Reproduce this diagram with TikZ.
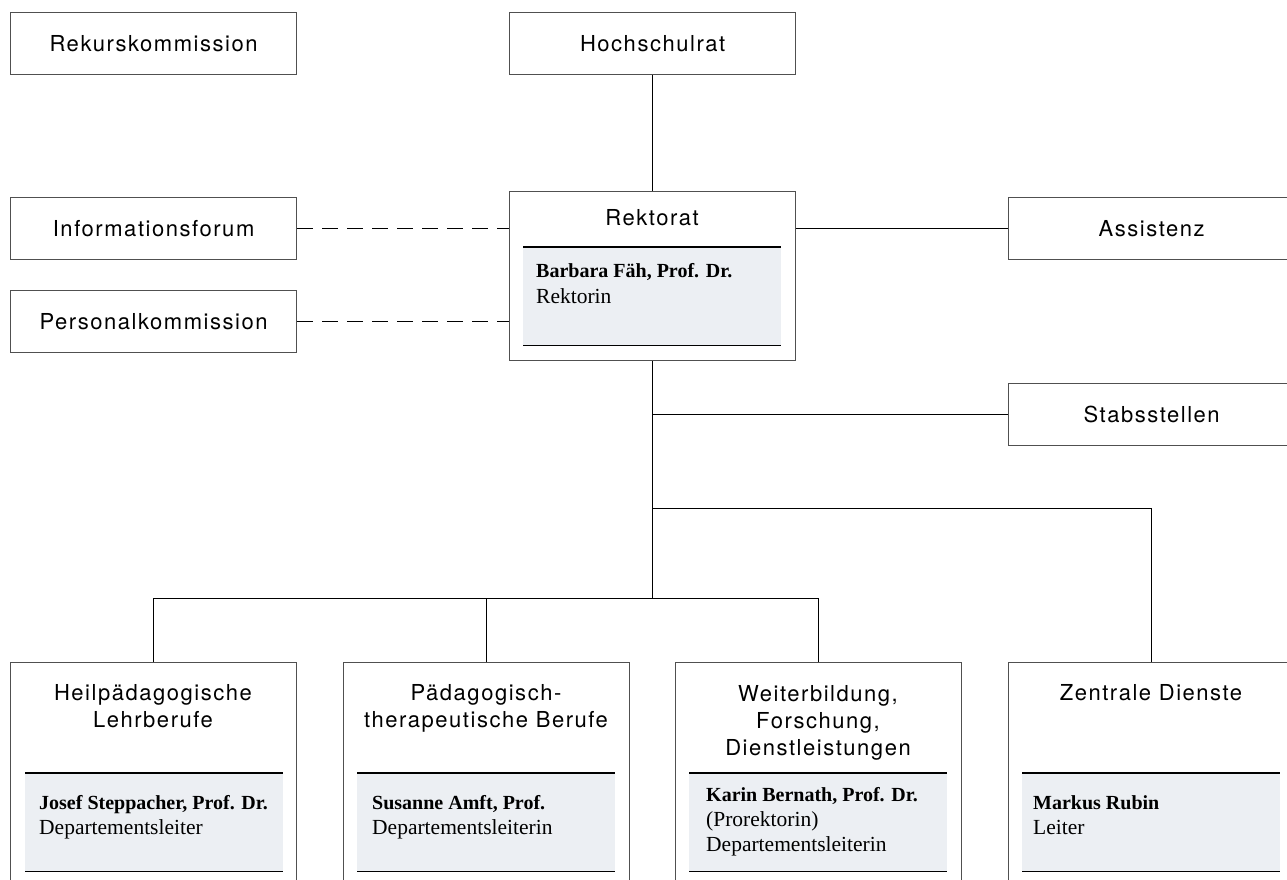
\documentclass[tikz,border=0pt]{standalone}
\usepackage{fontspec}
\setmainfont{Liberation Serif}
\newfontfamily\hv[LetterSpace=7]{TeX Gyre Heros}
\definecolor{panelgray}{RGB}{236,239,243}
\definecolor{framegray}{RGB}{80,80,80}
\begin{document}
\begin{tikzpicture}[x=1pt,y=-1pt,
  box/.style={draw=framegray, line width=1.2pt, rectangle, anchor=north west, inner sep=0pt,
    minimum width=286pt, font=\hv\fontsize{22}{27}\selectfont, align=center},
  onebox/.style={box, minimum height=62pt},
  bigbox/.style={box, minimum height=240pt},
  panel/.style={fill=panelgray, draw=none, anchor=north west, inner sep=0pt,
    minimum width=258pt, minimum height=98pt},
  pline/.style={line width=1.2pt, black},
  ttl/.style={font=\hv\fontsize{22}{27}\selectfont, anchor=base, inner sep=0pt},
  pbold/.style={font=\bfseries\fontsize{20}{25}\selectfont, anchor=base west, inner sep=0pt},
  preg/.style={font=\fontsize{21.5}{25}\selectfont, anchor=base west, inner sep=0pt},
  conn/.style={line width=1pt, black},
  dconn/.style={conn, dash pattern=on 16pt off 9pt}
]
\useasboundingbox (0,0) rectangle (1287,880);
\clip (0,0) rectangle (1287,880);

% top row
\node[onebox] (rekurs) at (10,12) {Rekurskommission};
\node[onebox] (hs) at (509,12) {Hochschulrat};
\node[onebox] (info) at (10,197) {Informationsforum};
\node[onebox] (pers) at (10,290) {Personalkommission};
\node[onebox] (ass) at (1008,197) {Assistenz};
\node[onebox] (stab) at (1008,383) {Stabsstellen};

% Rektorat
\node[box, minimum height=169pt] (rek) at (509,191) {};
\node[ttl] (rekt) at (652,225) {Rektorat};
\node[panel] (rekp) at (523,247) {};
\draw[pline] (rekp.north west) -- (rekp.north east);
\draw[pline] (rekp.south west) -- (rekp.south east);
\node[pbold] (rekn) at (536,277) {Barbara Fäh, Prof. Dr.};
\node[preg] (rekr) at (536,303) {Rektorin};

% bottom boxes
\node[bigbox] (heil) at (10,662) {};
\node[ttl] (heilt1) at (153,700) {Heilpädagogische};
\node[ttl] (heilt2) at (153,727) {Lehrberufe};
\node[panel] (heilp) at (25,773) {};
\draw[pline] (heilp.north west) -- (heilp.north east);
\draw[pline] (heilp.south west) -- (heilp.south east);
\node[pbold] (heiln) at (39,809) {Josef Steppacher, Prof. Dr.};
\node[preg] (heilr) at (39,834) {Departementsleiter};

\node[bigbox] (paed) at (343,662) {};
\node[ttl] (paedt1) at (486,700) {Pädagogisch-};
\node[ttl] (paedt2) at (486,727) {therapeutische Berufe};
\node[panel] (paedp) at (357,773) {};
\draw[pline] (paedp.north west) -- (paedp.north east);
\draw[pline] (paedp.south west) -- (paedp.south east);
\node[pbold] (paedn) at (372,809) {Susanne Amft, Prof.};
\node[preg] (paedr) at (372,834) {Departementsleiterin};

\node[bigbox] (wfd) at (675,662) {};
\node[ttl] (wfdt1) at (818,701) {Weiterbildung,};
\node[ttl] (wfdt2) at (818,728) {Forschung,};
\node[ttl] (wfdt3) at (818,755) {Dienstleistungen};
\node[panel] (wfdp) at (689,773) {};
\draw[pline] (wfdp.north west) -- (wfdp.north east);
\draw[pline] (wfdp.south west) -- (wfdp.south east);
\node[pbold] (wfdn) at (706,801) {Karin Bernath, Prof. Dr.};
\node[preg] (wfdr1) at (706,826) {(Prorektorin)};
\node[preg] (wfdr2) at (706,851) {Departementsleiterin};

\node[bigbox] (zd) at (1008,662) {};
\node[ttl] (zdt) at (1151,700) {Zentrale Dienste};
\node[panel] (zdp) at (1022,773) {};
\draw[pline] (zdp.north west) -- (zdp.north east);
\draw[pline] (zdp.south west) -- (zdp.south east);
\node[pbold] (zdn) at (1033,809) {Markus Rubin};
\node[preg] (zdr) at (1033,834) {Leiter};

% connectors
\coordinate (j1) at (rek.south |- 0,598);
\coordinate (j2) at (rek.south |- 0,508);
\draw[conn] (hs.south) -- (rek.north);
\draw[conn] (rek.south) -- (j1);
\draw[conn] (rek.south |- stab.west) -- (stab.west);
\draw[conn] (j2) -| (zd.north);
\draw[conn] (heil.north) |- (j1);
\draw[conn] (wfd.north) |- (j1);
\draw[conn] (paed.north) -- (paed.north |- j1);
\draw[conn] (rek.east |- ass.west) -- (ass.west);
\draw[dconn] (info.east) -- (rek.west |- info.east);
\draw[dconn] (pers.east) -- (rek.west |- pers.east);
\end{tikzpicture}
\end{document}
